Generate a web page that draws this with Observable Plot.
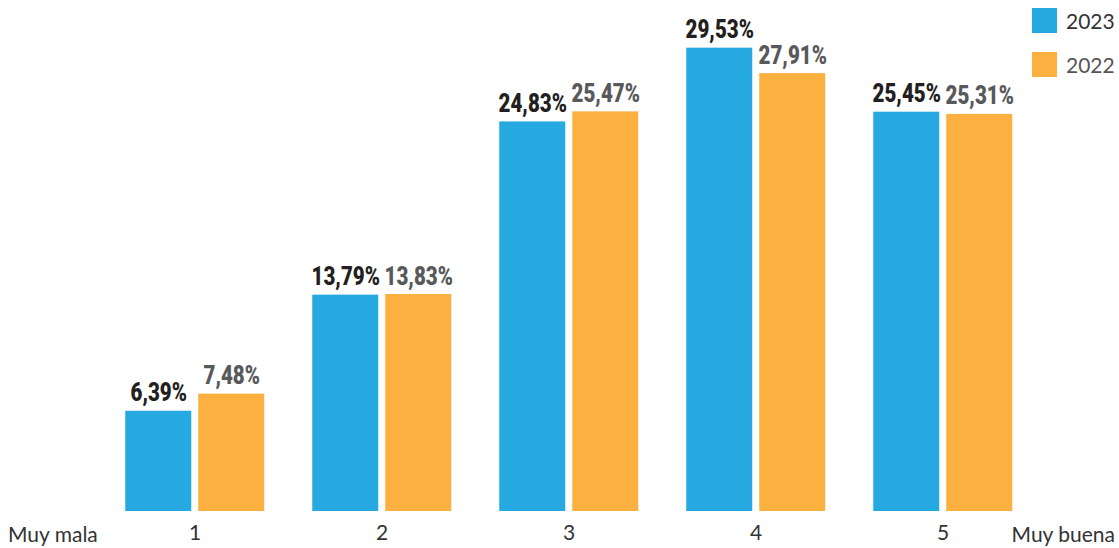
<!DOCTYPE html>
<html>
<head>
<meta charset="utf-8">
<script src="https://cdn.jsdelivr.net/npm/d3@7"></script>
<script src="https://cdn.jsdelivr.net/npm/@observablehq/plot@0.6"></script>
<style>
  body { margin: 0; background: #fff; }
  #wrap { position: relative; width: 1119px; height: 548px; font-family: Lato, sans-serif; }
  .side { position: absolute; top: 520px; font-size: 21px; color: #333; line-height: 28px; }
  .leg { position: absolute; left: 1032px; display: flex; align-items: center; font-size: 21px; line-height: 25px; }
  .leg span.sw { display: inline-block; width: 25px; height: 25px; margin-right: 9px; }
</style>
</head>
<body>
<div id="wrap"></div>
<script>
const categories = ["1", "2", "3", "4", "5"];
const years = ["2023", "2022"];
const values2023 = [6.39, 13.79, 24.83, 29.53, 25.45];
const values2022 = [7.48, 13.83, 25.47, 27.91, 25.31];
const yearColors = ["#25A9E0", "#FBB040"];
const labelColors = ["#231F20", "#58595B"];
const leftLabel = "Muy mala";
const rightLabel = "Muy buena";

const data = categories.flatMap((c, i) => [
  {cat: c, year: years[0], value: values2023[i]},
  {cat: c, year: years[1], value: values2022[i]}
]);
const fmt = v => v.toFixed(2).replace(".", ",") + "%";

const valueText = (yr, color) => Plot.text(data.filter(d => d.year === yr), {
  fx: "cat", x: "year", y: "value", text: d => fmt(d.value),
  lineAnchor: "bottom", dy: -10, fill: color,
  fontFamily: "Roboto", fontWeight: 900, fontSize: 26
});

const chart = Plot.plot({
  width: 1119, height: 548,
  marginLeft: 99.75, marginRight: 81.75, marginTop: 40.3, marginBottom: 37,
  style: {fontFamily: "Lato", fontSize: "21px", color: "#333", background: "transparent"},
  fx: {domain: categories, padding: 0, label: null, axis: "bottom", tickSize: 0, tickPadding: 14},
  x: {domain: years, paddingInner: 0.096, paddingOuter: 0.32, axis: null},
  y: {domain: [0, 30], axis: null},
  color: {domain: years, range: yearColors},
  marks: [
    Plot.barY(data, {fx: "cat", x: "year", y: "value", fill: "year"}),
    valueText(years[0], labelColors[0]),
    valueText(years[1], labelColors[1])
  ]
});

// condense the value labels horizontally (Impact-like look)
d3.select(chart).selectAll("g[aria-label='text'] text").each(function () {
  const t = d3.select(this);
  let tr = t.attr("transform");
  if (!tr) {
    const x = +t.attr("x") || 0, y = +t.attr("y") || 0;
    t.attr("x", null).attr("y", null);
    tr = `translate(${x},${y})`;
  }
  t.attr("transform", tr + " scale(0.79,1)");
});

const wrap = document.getElementById("wrap");
wrap.appendChild(chart);

const l = document.createElement("div");
l.className = "side"; l.style.left = "8px"; l.textContent = leftLabel;
wrap.appendChild(l);
const r = document.createElement("div");
r.className = "side"; r.style.right = "4px"; r.textContent = rightLabel;
wrap.appendChild(r);

years.forEach((y, i) => {
  const row = document.createElement("div");
  row.className = "leg";
  row.style.top = (8 + i * 44) + "px";
  row.style.color = i === 0 ? "#333" : "#555";
  const sw = document.createElement("span");
  sw.className = "sw"; sw.style.background = yearColors[i];
  row.appendChild(sw);
  row.appendChild(document.createTextNode(y));
  wrap.appendChild(row);
});
</script>
</body>
</html>
